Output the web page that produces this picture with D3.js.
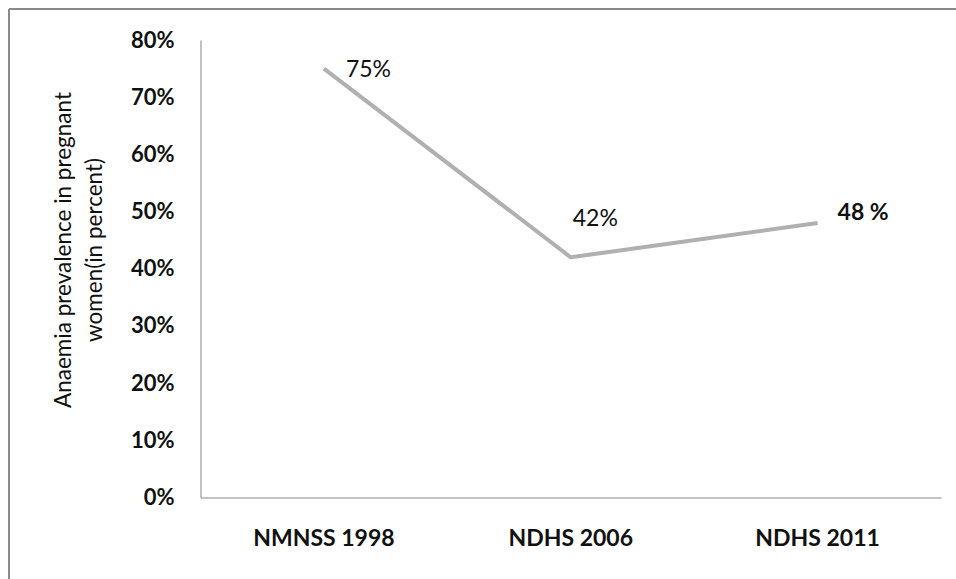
<!DOCTYPE html>
<html>
<head>
<meta charset="utf-8">
<script src="https://cdn.jsdelivr.net/npm/d3@7/dist/d3.min.js"></script>
<style>
  html, body { margin: 0; padding: 0; background: #fff; }
  svg { display: block; }
</style>
</head>
<body>
<svg id="chart" width="956" height="579"></svg>
<script>
// Survey rounds and anaemia prevalence among pregnant women (%)
const surveys = ["NMNSS 1998", "NDHS 2006", "NDHS 2011"];
const prevalence = [75, 42, 48];
const valueLabels = ["75%", "42%", "48 %"];
const labelBold = [false, false, true];
const yTicks = [0, 10, 20, 30, 40, 50, 60, 70, 80];
const yTitleLines = ["Anaemia prevalence in pregnant", "women(in percent)"];

const font = "Lato, 'Open Sans', sans-serif";
const svg = d3.select("#chart");

// frame
svg.append("line").attr("x1", 9).attr("x2", 956).attr("y1", 9).attr("y2", 9)
  .attr("stroke", "#8a8a8a").attr("stroke-width", 2);
svg.append("line").attr("x1", 9).attr("x2", 9).attr("y1", 9).attr("y2", 579)
  .attr("stroke", "#8a8a8a").attr("stroke-width", 2);

const plot = { left: 200.5, right: 941, top: 40, bottom: 497.5 };

const x = d3.scaleBand().domain(surveys).range([plot.left, plot.right]);
const y = d3.scaleLinear().domain([0, 80]).range([plot.bottom, plot.top]);

// y axis
const yAxis = svg.append("g")
  .attr("transform", `translate(${plot.left},0)`)
  .call(d3.axisLeft(y).tickValues(yTicks).tickSize(0).tickPadding(26)
    .tickFormat(d => d + "%"));
yAxis.select(".domain").attr("stroke", "#868686").attr("stroke-width", 1);
yAxis.selectAll("text")
  .attr("font-family", font).attr("font-weight", "bold")
  .attr("font-size", 22).attr("fill", "#111");

// x axis
const xAxis = svg.append("g")
  .attr("transform", `translate(0,${plot.bottom})`)
  .call(d3.axisBottom(x).tickSize(0).tickPadding(32));
xAxis.select(".domain").attr("stroke", "#868686").attr("stroke-width", 1);
xAxis.selectAll("text")
  .attr("font-family", font).attr("font-weight", "bold")
  .attr("font-size", 23).attr("fill", "#111");

// y axis title
const yTitle = svg.append("text")
  .attr("transform", "translate(78,250) rotate(-90)")
  .attr("text-anchor", "middle")
  .attr("font-family", font).attr("font-size", 22.5).attr("fill", "#111");
yTitleLines.forEach((t, i) => {
  yTitle.append("tspan").attr("x", 0).attr("y", i === 0 ? -7 : 24).text(t);
});

// series line
const pts = surveys.map((s, i) => [x(s) + x.bandwidth() / 2, y(prevalence[i])]);
svg.append("path")
  .attr("d", d3.line()(pts))
  .attr("fill", "none").attr("stroke", "#b0b0b0")
  .attr("stroke-width", 4).attr("stroke-linejoin", "round");

// value labels
const dx = [22, 2, 20];
const dyOff = [0, -40, -11];
svg.selectAll("text.value").data(surveys).enter().append("text")
  .attr("class", "value")
  .attr("x", (s, i) => x(s) + x.bandwidth() / 2 + dx[i])
  .attr("y", (s, i) => y(prevalence[i]) + dyOff[i])
  .attr("dy", "0.36em")
  .attr("font-family", font).attr("font-size", 23)
  .attr("font-weight", (s, i) => labelBold[i] ? "bold" : "normal")
  .attr("fill", "#111")
  .text((s, i) => valueLabels[i]);
</script>
</body>
</html>
